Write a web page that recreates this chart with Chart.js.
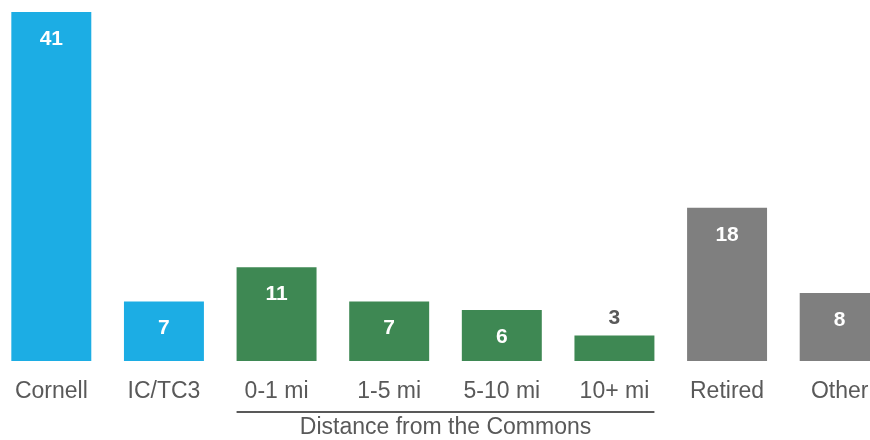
<!DOCTYPE html>
<html>
<head>
<meta charset="utf-8">
<script src="https://cdn.jsdelivr.net/npm/chart.js@4/dist/chart.umd.min.js"></script>
<style>
    html, body { margin: 0; padding: 0; background: #fff; overflow: hidden; width: 870px; height: 440px; }
    #chart { position: absolute; left: -5px; top: 0; }
</style>
</head>
<body>
<canvas id="chart" width="901" height="440"></canvas>
<script>
// chart data
var categories = ["Cornell", "IC/TC3", "0-1 mi", "1-5 mi", "5-10 mi", "10+ mi", "Retired", "Other"];
var counts = [41, 7, 11, 7, 6, 3, 18, 8];
var barColors = ["#1CADE4", "#1CADE4", "#3E8853", "#3E8853", "#3E8853", "#3E8853", "#7F7F7F", "#7F7F7F"];
var groupLabel = "Distance from the Commons";
var groupStart = 2;
var groupEnd = 5;

var textGrey = "#595959";
var fontFamily = "'Liberation Sans', Arial, sans-serif";

// value labels, white inside the bar or grey above it when the bar is short
var valueLabels = {
    id: "valueLabels",
    afterDatasetsDraw: function (chart) {
        var ctx = chart.ctx;
        var meta = chart.getDatasetMeta(0);
        ctx.save();
        ctx.font = "bold 21px " + fontFamily;
        ctx.textAlign = "center";
        ctx.textBaseline = "middle";
        meta.data.forEach(function (bar, i) {
            var h = bar.base - bar.y;
            if (h > 40) {
                ctx.fillStyle = "#ffffff";
                ctx.fillText(String(counts[i]), bar.x, bar.y + 27);
            }
            else {
                ctx.fillStyle = textGrey;
                ctx.fillText(String(counts[i]), bar.x, bar.y - 17);
            }
        });
        ctx.restore();
    }
};

// bracket line under the distance groups
var groupBracket = {
    id: "groupBracket",
    afterDraw: function (chart) {
        var ctx = chart.ctx;
        var meta = chart.getDatasetMeta(0);
        var first = meta.data[groupStart];
        var last = meta.data[groupEnd];
        var x1 = first.x - first.width / 2;
        var x2 = last.x + last.width / 2;
        ctx.save();
        ctx.strokeStyle = textGrey;
        ctx.lineWidth = 2;
        ctx.beginPath();
        ctx.moveTo(x1, 412);
        ctx.lineTo(x2, 412);
        ctx.stroke();
        ctx.fillStyle = textGrey;
        ctx.font = "23px " + fontFamily;
        ctx.textAlign = "center";
        ctx.textBaseline = "middle";
        ctx.fillText(groupLabel, (x1 + x2) / 2, 428);
        ctx.restore();
    }
};

new Chart(document.getElementById("chart"), {
    type: "bar",
    data: {
        labels: categories,
        datasets: [{
            data: counts,
            backgroundColor: barColors,
            borderWidth: 0,
            categoryPercentage: 1.0,
            barPercentage: 0.71
        }]
    },
    options: {
        responsive: false,
        animation: false,
        devicePixelRatio: 1,
        layout: { padding: { top: 12, left: 0, right: 0, bottom: 0 } },
        plugins: {
            legend: { display: false },
            tooltip: { enabled: false },
            title: { display: false }
        },
        scales: {
            x: {
                grid: { display: false },
                border: { display: false },
                ticks: {
                    color: textGrey,
                    padding: 9,
                    font: { family: fontFamily, size: 23 }
                },
                afterFit: function (scale) {
                    scale.height = 79;
                }
            },
            y: {
                display: false,
                min: 0,
                max: 41
            }
        }
    },
    plugins: [valueLabels, groupBracket]
});
</script>
</body>
</html>
